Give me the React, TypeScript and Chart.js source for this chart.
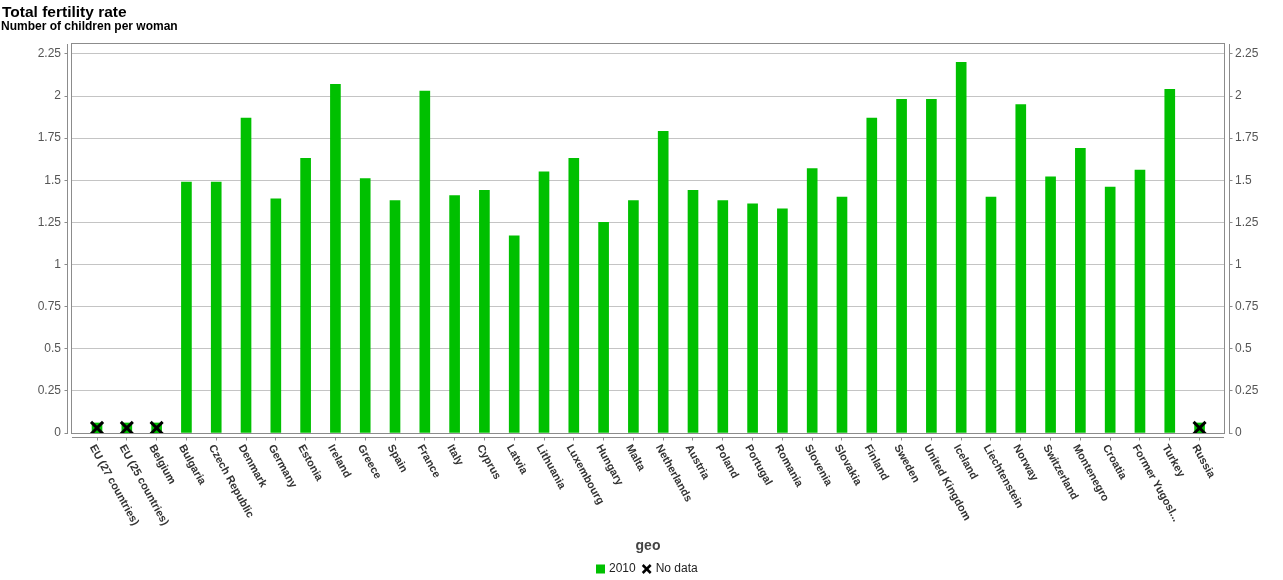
import React, { useEffect, useRef } from 'react';
import { Chart, registerables } from 'chart.js';

Chart.register(...registerables);

// ---------- data ----------
const geoLabels: string[] = [
  'EU (27 countries)', 'EU (25 countries)', 'Belgium', 'Bulgaria', 'Czech Republic',
  'Denmark', 'Germany', 'Estonia', 'Ireland', 'Greece', 'Spain', 'France', 'Italy',
  'Cyprus', 'Latvia', 'Lithuania', 'Luxembourg', 'Hungary', 'Malta', 'Netherlands',
  'Austria', 'Poland', 'Portugal', 'Romania', 'Slovenia', 'Slovakia', 'Finland',
  'Sweden', 'United Kingdom', 'Iceland', 'Liechtenstein', 'Norway', 'Switzerland',
  'Montenegro', 'Croatia', 'Former Yugosl...', 'Turkey', 'Russia',
];

const fertility2010: (number | null)[] = [
  null, null, null, 1.49, 1.49,
  1.87, 1.39, 1.63, 2.07, 1.51, 1.38, 2.03, 1.41,
  1.44, 1.17, 1.55, 1.63, 1.25, 1.38, 1.79,
  1.44, 1.38, 1.36, 1.33, 1.57, 1.40, 1.87,
  1.98, 1.98, 2.20, 1.40, 1.95, 1.52,
  1.69, 1.46, 1.56, 2.04, null,
];

const yTickValues: number[] = [0, 0.25, 0.5, 0.75, 1, 1.25, 1.5, 1.75, 2, 2.25];
const noDataLevel = 0.03;

const TITLE = 'Total fertility rate';
const SUBTITLE = 'Number of children per woman';
const X_TITLE = 'geo';
const SERIES_LABEL = '2010';
const NO_DATA_LABEL = 'No data';

// ---------- styles ----------
const GREEN = '#00c000';
const FONT = '"Liberation Sans", Arial, Helvetica, sans-serif';

const fmt = (v: number) => Number(v).toFixed(2).replace(/\.?0+$/, '');

const decorPlugin = {
  id: 'decor',
  afterDraw(chart: any) {
    const { ctx, chartArea: ca, scales } = chart;
    const xs = scales.x;
    const ys = scales.y;
    const al = (p: number) => Math.round(p - 0.5) + 0.5;
    const line = (x1: number, y1: number, x2: number, y2: number) => {
      ctx.beginPath();
      ctx.moveTo(x1, y1);
      ctx.lineTo(x2, y2);
      ctx.stroke();
    };
    ctx.save();
    ctx.lineWidth = 1;
    ctx.strokeStyle = '#8c8c8c';
    // plot frame
    ctx.strokeRect(ca.left - 0.5, ca.top - 0.5, ca.right - ca.left + 1, ca.bottom - ca.top + 1);
    // left axis
    const axL = ca.left - 4.5;
    line(axL, ca.top, axL, ca.bottom + 1);
    // right axis
    const axR = ca.right + 5.5;
    line(axR, ca.top, axR, ca.bottom + 1);
    yTickValues.forEach((v) => {
      const py = al(ys.getPixelForValue(v));
      line(axL - 3, py, axL, py);
      line(axR, py, axR + 3, py);
    });
    // bottom axis
    const axB = ca.bottom + 4.5;
    line(ca.left, axB, ca.right, axB);
    geoLabels.forEach((_, i) => {
      const px = al(xs.getPixelForValue(i));
      line(px, axB, px, axB + 3);
    });

    // x labels rotated clockwise
    ctx.fillStyle = '#333';
    ctx.font = `bold 11px ${FONT}`;
    ctx.textAlign = 'left';
    ctx.textBaseline = 'middle';
    geoLabels.forEach((lab, i) => {
      const px = xs.getPixelForValue(i);
      ctx.save();
      ctx.translate(px - 5, axB + 8);
      ctx.rotate((61 * Math.PI) / 180);
      ctx.fillText(lab, 0, 0);
      ctx.restore();
    });

    // axis title
    ctx.fillStyle = '#444';
    ctx.font = `bold 14px ${FONT}`;
    ctx.textAlign = 'center';
    ctx.textBaseline = 'alphabetic';
    ctx.fillText(X_TITLE, (ca.left + ca.right) / 2, 550);

    // legend
    ctx.font = `12px ${FONT}`;
    ctx.textBaseline = 'middle';
    ctx.textAlign = 'left';
    const ly = 569;
    let lx = 596;
    ctx.fillStyle = GREEN;
    ctx.fillRect(lx, ly - 4.5, 9, 9);
    lx += 13;
    ctx.fillStyle = '#222';
    ctx.fillText(SERIES_LABEL, lx, ly);
    lx += ctx.measureText(SERIES_LABEL).width + 7;
    ctx.strokeStyle = '#000';
    ctx.lineWidth = 2.5;
    line(lx, ly - 4, lx + 8, ly + 4);
    line(lx, ly + 4, lx + 8, ly - 4);
    lx += 13;
    ctx.fillText(NO_DATA_LABEL, lx, ly);

    // titles
    ctx.fillStyle = '#000';
    ctx.textAlign = 'left';
    ctx.textBaseline = 'alphabetic';
    ctx.font = `bold 15.5px ${FONT}`;
    ctx.fillText(TITLE, 2, 16.5);
    ctx.font = `bold 12px ${FONT}`;
    ctx.fillText(SUBTITLE, 1, 30);
    ctx.restore();
  },
};

export default function App() {
  const ref = useRef<HTMLCanvasElement>(null);
  useEffect(() => {
    document.body.style.margin = '0';
    const barPoints = fertility2010
      .map((v, i) => ({ x: i, y: v }))
      .filter((p) => p.y !== null);
    const noDataPoints = fertility2010
      .map((v, i) => ({ x: i, y: v === null ? noDataLevel : null }))
      .filter((p) => p.y !== null);

    const yCommon = {
      min: 0,
      max: 2.309,
      afterBuildTicks: (s: any) => {
        s.ticks = yTickValues.map((v) => ({ value: v }));
      },
      border: { display: false },
      ticks: {
        padding: 11,
        color: '#555',
        font: { family: FONT, size: 12 },
        callback: (v: any) => fmt(v),
      },
    };

    const chart = new Chart(ref.current as HTMLCanvasElement, {
      type: 'bar',
      data: {
        datasets: [
          {
            type: 'scatter',
            label: 'No data cross',
            data: noDataPoints as any,
            pointStyle: 'crossRot',
            pointRadius: 8.5,
            pointBorderWidth: 3,
            pointBorderColor: '#000',
            pointBackgroundColor: '#000',
            order: 0,
          } as any,
          {
            type: 'scatter',
            label: 'No data square',
            data: noDataPoints as any,
            pointStyle: 'rect',
            pointRadius: 7.5,
            pointBorderWidth: 0,
            pointBackgroundColor: GREEN,
            order: 1,
          } as any,
          {
            label: SERIES_LABEL,
            data: barPoints as any,
            backgroundColor: GREEN,
            barThickness: 10,
            order: 2,
          },
        ],
      },
      options: {
        responsive: false,
        animation: false,
        devicePixelRatio: 1,
        layout: { padding: { top: 44, bottom: 147, left: 0, right: 0 } },
        plugins: {
          legend: { display: false },
          tooltip: { enabled: false },
          title: { display: false },
        },
        scales: {
          x: {
            type: 'linear',
            min: -0.84,
            max: 37.82,
            offset: false,
            display: false,
            grid: { offset: false },
          },
          y: {
            ...yCommon,
            position: 'left',
            afterFit: (s: any) => {
              s.width = 72;
            },
            grid: { color: '#c4c4c4', drawTicks: false, lineWidth: 1 },
          },
          y2: {
            ...yCommon,
            position: 'right',
            afterFit: (s: any) => {
              s.width = 59;
            },
            grid: { display: false, drawTicks: false },
          },
        } as any,
      },
      plugins: [decorPlugin],
    });
    return () => chart.destroy();
  }, []);

  return (
    <div style={{ width: 1283, height: 580 }}>
      <canvas ref={ref} width={1283} height={580} style={{ display: 'block' }} />
    </div>
  );
}
